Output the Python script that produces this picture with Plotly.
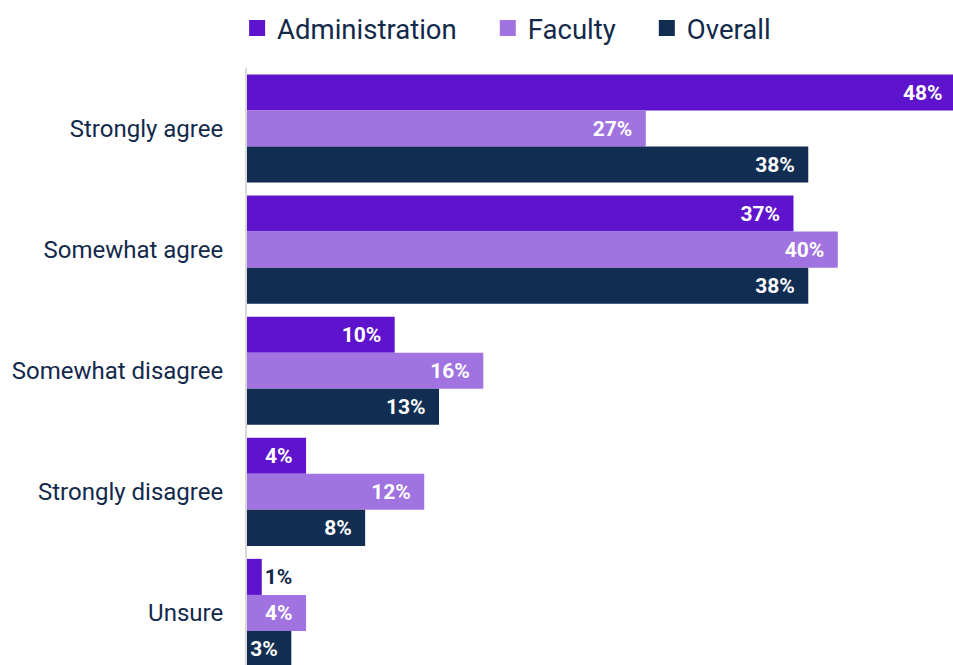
import plotly.graph_objects as go

categories = ["Strongly agree", "Somewhat agree", "Somewhat disagree", "Strongly disagree", "Unsure"]
series_names = ["Administration", "Faculty", "Overall"]
administration = [48, 37, 10, 4, 1]
faculty = [27, 40, 16, 12, 4]
overall = [38, 38, 13, 8, 3]

colors = ["#5E14CC", "#A073E0", "#112D52"]
navy = "#13294B"
values = [administration, faculty, overall]

fig = go.Figure()
NB = "\u00a0\u00a0"
for name, vals, col in zip(series_names, values, colors):
    pos = ["outside" if v < 2 else "inside" for v in vals]
    texts = [f"{v}%" + (NB if p == "inside" else "") for v, p in zip(vals, pos)]
    fig.add_trace(go.Bar(
        y=categories, x=vals, name=name, orientation="h",
        marker=dict(color=col, line=dict(width=0)),
        text=texts, textposition=pos, insidetextanchor="end",
        insidetextfont=dict(family="Roboto", size=21, color="white", weight="bold"),
        outsidetextfont=dict(family="Roboto", size=21, color=navy, weight="bold"),
        textangle=0, constraintext="none",
        showlegend=False, hoverinfo="skip",
    ))

pad = "\u00a0\u00a0\u00a0\u2009"
legend_labels = [n + pad for n in series_names[:-1]] + [series_names[-1]]
for lab, col in zip(legend_labels, colors):
    fig.add_trace(go.Scatter(
        x=[None], y=[None], mode="markers", name=lab,
        marker=dict(symbol="square", size=16, color=col),
        showlegend=True,
    ))

fig.update_layout(
    width=953, height=665,
    margin=dict(l=247, r=0, t=68, b=0),
    paper_bgcolor="white", plot_bgcolor="white",
    barmode="group", bargap=0.107, bargroupgap=0,
    font=dict(family="Roboto", color=navy),
    legend=dict(orientation="h", x=-0.014, xanchor="left", y=1.067, yanchor="middle",
                font=dict(size=27.5, color=navy), traceorder="normal",
                bgcolor="rgba(0,0,0,0)"),
    xaxis=dict(range=[0, 47.8], visible=False, fixedrange=True),
    yaxis=dict(categoryorder="array", categoryarray=categories,
               range=[4.43, -0.5], showline=True, linecolor="#D9D9D9", linewidth=2,
               showgrid=False, zeroline=False, ticks="", ticklabelstandoff=17,
               tickfont=dict(size=24, color=navy)),
)

fig.write_html("out.html")
